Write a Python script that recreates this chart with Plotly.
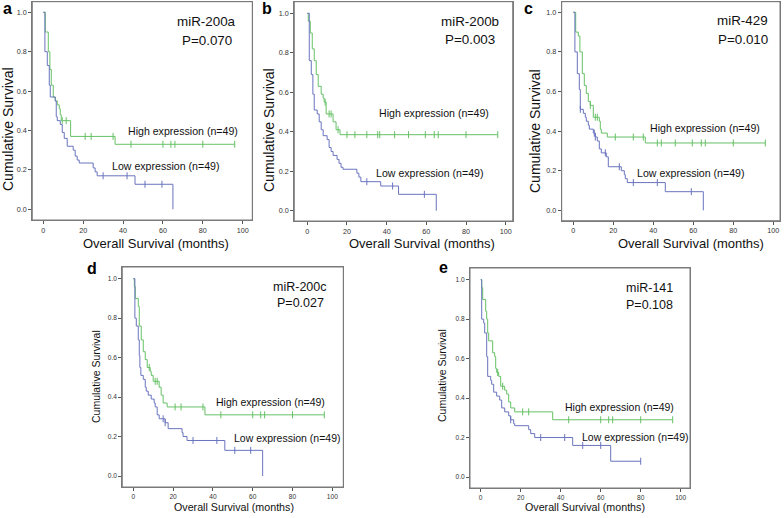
import plotly.graph_objects as go

# ---------------- data ----------------
panel_letters = ["a", "b", "c", "d", "e"]
mirna_names = ["miR-200a", "miR-200b", "miR-429", "miR-200c", "miR-141"]
p_values = ["P=0.070", "P=0.003", "P=0.010", "P=0.027", "P=0.108"]
high_label = "High expression (n=49)"
low_label = "Low expression (n=49)"
x_title = "Overall Survival (months)"
y_title = "Cumulative Survival"
x_ticks = [0, 20, 40, 60, 80, 100]
y_ticks = [0.0, 0.2, 0.4, 0.6, 0.8, 1.0]

# panel a
high_a_t = [0, 1, 2.5, 3.3, 4, 5, 6, 7, 8, 8.5, 9, 13.7, 36, 96]
high_a_s = [1.0, 0.90, 0.80, 0.71, 0.63, 0.57, 0.55, 0.53, 0.51, 0.48, 0.45, 0.37, 0.33, 0.33]
high_a_c = [9.5, 11.5, 21, 24, 35, 44, 60, 64, 66, 80, 96]
low_a_t = [0, 0.8, 2, 3, 3.5, 6, 6.5, 7, 8.5, 9.5, 10.5, 12, 15, 16, 17, 18, 25, 26, 27, 46, 65]
low_a_s = [1.0, 0.80, 0.73, 0.63, 0.57, 0.55, 0.47, 0.45, 0.43, 0.39, 0.36, 0.32, 0.30, 0.27, 0.25, 0.235, 0.21, 0.19, 0.17, 0.127, 0.0]
low_a_c = [30, 42, 51, 59.5]

# panel b
high_b_t = [0, 0.5, 1.5, 2.5, 3.5, 4.5, 5.5, 7, 8, 8.5, 9.5, 13, 14.5, 16.5, 96]
high_b_s = [1.0, 0.96, 0.90, 0.82, 0.76, 0.69, 0.63, 0.59, 0.57, 0.55, 0.49, 0.45, 0.41, 0.385, 0.385]
high_b_c = [9, 11, 12, 15.5, 20, 24, 30, 35.5, 36.5, 44, 51, 59.5, 64, 66, 80, 96]
low_b_t = [0, 1, 2, 2.8, 3.5, 5, 6, 7, 8, 10, 11, 12, 13, 15, 16, 17, 18, 25, 26, 27, 37, 46, 65]
low_b_s = [1.0, 0.76, 0.69, 0.59, 0.51, 0.49, 0.45, 0.41, 0.38, 0.36, 0.32, 0.30, 0.28, 0.26, 0.24, 0.22, 0.21, 0.19, 0.17, 0.147, 0.125, 0.083, 0.0]
low_b_c = [30, 43, 59]

# panel c
high_c_t = [0, 1.2, 2.5, 3.3, 4.5, 5.5, 6.5, 7.5, 8.5, 10, 13, 13.5, 14, 17, 36, 96]
high_c_s = [1.0, 0.90, 0.88, 0.80, 0.69, 0.63, 0.59, 0.55, 0.53, 0.47, 0.45, 0.41, 0.39, 0.37, 0.34, 0.34]
high_c_c = [8.5, 11, 12, 21, 30, 35, 42, 44, 51, 59.5, 64, 66, 80, 96]
low_c_t = [0, 0.8, 2, 3, 3.5, 5, 6, 6.5, 7.5, 8, 10, 11, 12, 13, 14, 16.5, 17.5, 24, 25.5, 26, 27, 46, 65]
low_c_s = [1.0, 0.80, 0.69, 0.61, 0.51, 0.49, 0.47, 0.45, 0.43, 0.41, 0.39, 0.37, 0.35, 0.31, 0.29, 0.27, 0.22, 0.20, 0.18, 0.16, 0.14, 0.094, 0.0]
low_c_c = [3.5, 10.5, 11, 16, 23, 30, 42, 59]

# panel d
high_d_t = [0, 0.5, 1, 2.5, 3, 4, 5, 6, 7, 8.5, 9, 10, 13, 14, 15, 17, 36, 96]
high_d_s = [1.0, 0.96, 0.90, 0.86, 0.76, 0.69, 0.63, 0.59, 0.55, 0.53, 0.51, 0.48, 0.45, 0.41, 0.37, 0.35, 0.31, 0.31]
high_d_c = [8, 11, 12, 21, 24, 35, 44, 60, 64, 66, 80, 96]
low_d_t = [0, 0.8, 1.5, 2.5, 3, 3.3, 3.8, 5, 6, 6.5, 7.5, 9, 10.5, 11, 12, 13, 16, 17.5, 24.5, 25, 27, 46, 65]
low_d_s = [1.0, 0.80, 0.76, 0.69, 0.61, 0.55, 0.51, 0.49, 0.45, 0.43, 0.41, 0.39, 0.37, 0.35, 0.31, 0.29, 0.27, 0.24, 0.22, 0.20, 0.18, 0.13, 0.0]
low_d_c = [15, 16, 30, 42, 51, 59]

# panel e
high_e_t = [0, 0.5, 1, 2.5, 3, 3.5, 4, 6, 7, 7.5, 8, 9, 10, 12, 13, 14, 15, 17, 36, 96]
high_e_s = [1.0, 0.96, 0.90, 0.84, 0.80, 0.73, 0.69, 0.63, 0.61, 0.55, 0.53, 0.51, 0.46, 0.44, 0.42, 0.38, 0.35, 0.33, 0.29, 0.29]
high_e_c = [8.5, 11, 21, 24, 44, 60, 64, 66, 80, 96]
low_e_t = [0, 0.5, 1.5, 2, 3, 3.5, 5, 5.5, 6.5, 8, 9.5, 10.5, 12, 14, 15, 16.5, 17, 24, 25, 27, 46, 65, 80]
low_e_s = [1.0, 0.80, 0.78, 0.73, 0.61, 0.51, 0.49, 0.47, 0.43, 0.41, 0.39, 0.35, 0.33, 0.31, 0.29, 0.27, 0.26, 0.24, 0.22, 0.20, 0.16, 0.08, 0.08]
low_e_c = [15, 30, 42, 51, 60, 80]

# ---------------- layout / style ----------------
W, H = 784, 518
GREEN = "#66c166"
BLUE = "#6a74be"
FONT = "Liberation Sans, Arial, sans-serif"

panels = [
    dict(high=(high_a_t, high_a_s, high_a_c), low=(low_a_t, low_a_s, low_a_c),
         frame=(32.3, 252.3, 1.7, 220.0), x0=43.3, x100=242.7, y1=12.3, y0=209.3,
         name_xy=(82, 0.952), p_xy=(82, 0.859), hi_xy=(41.5, 0.397), lo_xy=(33.4, 0.221),
         letter_px=(7, 9), ytitle_px=(8, 129), xtitle_px=(156, 243), big=True),
    dict(high=(high_b_t, high_b_s, high_b_c), low=(low_b_t, low_b_s, low_b_c),
         frame=(294.3, 512.7, 1.7, 221.0), x0=307.3, x100=505.7, y1=13.3, y0=210.7,
         name_xy=(82, 0.957), p_xy=(82, 0.868), hi_xy=(35, 0.493), lo_xy=(33.6, 0.19),
         letter_px=(267, 9), ytitle_px=(269, 130), xtitle_px=(422, 243), big=True),
    dict(high=(high_c_t, high_c_s, high_c_c), low=(low_c_t, low_c_s, low_c_c),
         frame=(561.7, 780.0, 1.7, 220.7), x0=573.3, x100=773.3, y1=12.3, y0=210.3,
         name_xy=(84.7, 0.958), p_xy=(84.7, 0.865), hi_xy=(37.5, 0.414), lo_xy=(30.8, 0.187),
         letter_px=(528, 9), ytitle_px=(535, 131), xtitle_px=(691, 243), big=True),
    dict(high=(high_d_t, high_d_s, high_d_c), low=(low_d_t, low_d_s, low_d_c),
         frame=(122.3, 343.3, 267.0, 487.0), x0=133.3, x100=332.3, y1=278.7, y0=476.0,
         name_xy=(83.8, 0.959), p_xy=(83.8, 0.875), hi_xy=(40.7, 0.373), lo_xy=(49.4, 0.194),
         letter_px=(92, 268), ytitle_px=(96, 377), xtitle_px=(234, 507), big=False),
    dict(high=(high_e_t, high_e_s, high_e_c), low=(low_e_t, low_e_s, low_e_c),
         frame=(470.0, 690.0, 268.0, 488.0), x0=480.7, x100=680.7, y1=279.7, y0=477.0,
         name_xy=(84.3, 0.956), p_xy=(84.3, 0.872), hi_xy=(41.3, 0.356), lo_xy=(49.6, 0.204),
         letter_px=(443, 267), ytitle_px=(442, 376), xtitle_px=(585, 507), big=False),
]


def surv_at(ts, ss, t):
    val = ss[0]
    for ti, si in zip(ts, ss):
        if ti <= t:
            val = si
        else:
            break
    return val


fig = go.Figure()
annotations = []
shapes = []
layout_axes = {}

for i, p in enumerate(panels):
    k = "" if i == 0 else str(i + 1)
    xa, ya = "x" + k, "y" + k
    L, R, T, B = p["frame"]
    xs = (p["x100"] - p["x0"]) / 100.0
    ys = (p["y0"] - p["y1"]) / 1.0
    xr = [(L - p["x0"]) / xs, (R - p["x0"]) / xs]
    yr = [-(B - p["y0"]) / ys, 1.0 + (p["y1"] - T) / ys]
    tick_fs = 7.2 if p["big"] else 6.6
    xtitle_fs = 13 if p["big"] else 10.7
    ytitle_fs = 14 if p["big"] else 10.5
    lab_fs = 10.6 if p["big"] else 10.5
    name_fs = 13.4 if p["big"] else 12.5

    common = dict(showgrid=False, zeroline=False, showline=True, mirror=True,
                  linecolor="#7a7a7a", linewidth=1, ticks="outside", ticklen=3,
                  tickcolor="#555555", tickwidth=1,
                  tickfont=dict(family=FONT, size=tick_fs, color="#333333"))
    layout_axes["xaxis" + k] = dict(common, domain=[L / W, R / W], range=xr,
                                    tickvals=x_ticks, anchor=ya)
    layout_axes["yaxis" + k] = dict(common, domain=[1 - B / H, 1 - T / H], range=yr,
                                    tickvals=y_ticks, tickformat=".1f", anchor=xa)
    shapes.append(dict(type="rect", xref=xa + " domain", yref=ya + " domain",
                       x0=0, x1=1, y0=0, y1=1, line=dict(color="#7a7a7a", width=1),
                       fillcolor="rgba(0,0,0,0)", layer="above"))

    for (ts, ss, cs), col in ((p["high"], GREEN), (p["low"], BLUE)):
        fig.add_trace(go.Scatter(x=ts, y=ss, mode="lines", line=dict(color=col, width=1, shape="hv"),
                                 xaxis=xa, yaxis=ya, showlegend=False, hoverinfo="skip"))
        fig.add_trace(go.Scatter(x=cs, y=[surv_at(ts, ss, c) for c in cs], mode="markers",
                                 marker=dict(symbol="line-ns", size=5,
                                             line=dict(color=col, width=1)),
                                 xaxis=xa, yaxis=ya, showlegend=False, hoverinfo="skip"))

    txt = dict(family=FONT, color="#111111")
    annotations += [
        dict(x=p["name_xy"][0], y=p["name_xy"][1], xref=xa, yref=ya, text=mirna_names[i],
             showarrow=False, font=dict(txt, size=name_fs), xanchor="center", yanchor="middle"),
        dict(x=p["p_xy"][0], y=p["p_xy"][1], xref=xa, yref=ya, text=p_values[i],
             showarrow=False, font=dict(txt, size=name_fs), xanchor="center", yanchor="middle"),
        dict(x=p["hi_xy"][0], y=p["hi_xy"][1], xref=xa, yref=ya, text=high_label,
             showarrow=False, font=dict(txt, size=lab_fs), xanchor="left", yanchor="middle"),
        dict(x=p["lo_xy"][0], y=p["lo_xy"][1], xref=xa, yref=ya, text=low_label,
             showarrow=False, font=dict(txt, size=lab_fs), xanchor="left", yanchor="middle"),
        dict(x=p["letter_px"][0] / W, y=1 - p["letter_px"][1] / H, xref="paper", yref="paper",
             text="<b>" + panel_letters[i] + "</b>", showarrow=False,
             font=dict(family=FONT, size=16, color="#000000"), xanchor="center", yanchor="middle"),
        dict(x=p["xtitle_px"][0] / W, y=1 - p["xtitle_px"][1] / H, xref="paper", yref="paper",
             text=x_title, showarrow=False, font=dict(txt, size=xtitle_fs),
             xanchor="center", yanchor="middle"),
        dict(x=p["ytitle_px"][0] / W, y=1 - p["ytitle_px"][1] / H, xref="paper", yref="paper",
             text=y_title, showarrow=False, textangle=-90, font=dict(txt, size=ytitle_fs),
             xanchor="center", yanchor="middle"),
    ]

fig.update_layout(width=W, height=H, margin=dict(l=0, r=0, t=0, b=0),
                  paper_bgcolor="white", plot_bgcolor="white",
                  annotations=annotations, shapes=shapes, showlegend=False, **layout_axes)

fig.write_html("out.html", config={"displayModeBar": False},
               post_script="document.body.style.margin='0';document.body.style.padding='0';"
                           "document.body.style.overflow='hidden';")
